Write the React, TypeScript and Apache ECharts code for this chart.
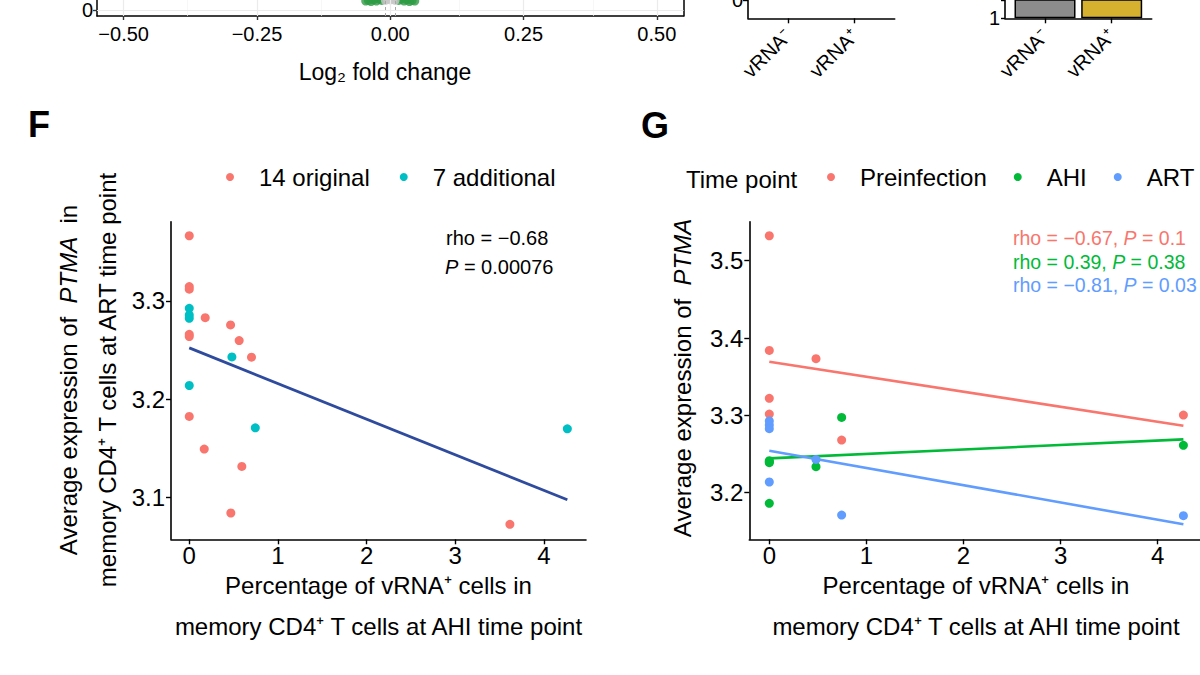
import React, { useEffect, useRef } from "react";
import * as echarts from "echarts";

const FONT = "'Liberation Sans', Arial, Helvetica, sans-serif";

// ---- Top-left remnant: volcano plot (only the bottom strip is visible)
const volcanoTicks = [-0.5, -0.25, 0, 0.25, 0.5];
const volcanoMinorTicks = [-0.375, -0.125, 0.125, 0.375];
const volcanoCutoffs = [-0.01, 0.01];
const volcanoSigX = [-0.046, -0.041, -0.036, -0.031, -0.026, -0.021, -0.016, 0.016, 0.021, 0.026, 0.031, 0.036, 0.041, 0.046];
const volcanoSigY = [0.75, 0.8, 0.7, 0.85, 0.75, 0.9, 0.8, 0.8, 0.9, 0.75, 0.85, 0.7, 0.8, 0.75];
const volcanoNsX = [-0.009, -0.005, 0, 0.005, 0.009];
const volcanoNsY = [0.8, 0.9, 0.85, 0.9, 0.8];

// ---- Top-middle remnants: two small vRNA panels
const vrnaLabels = ["vRNA\u207B", "vRNA\u207A"];
const vrnaPositions = [1, 2];
const vrnaFoldChange = [40, 60];
const vrnaColors = ["#8C8C8C", "#D6B12F"];

// ---- Panel F
const fOriginalX = [0, 0, 0, 0, 0, 0, 0.18, 0.466, 0.563, 0.702, 0.169, 0.593, 0.469, 3.617];
const fOriginalY = [3.3664, 3.3146, 3.312, 3.2637, 3.266, 3.1824, 3.283, 3.2756, 3.2597, 3.2427, 3.1492, 3.1315, 3.0841, 3.0725];
const fAdditionalX = [0, 0, 0, 0.481, 0, 0.745, 4.265];
const fAdditionalY = [3.2925, 3.2858, 3.2824, 3.243, 3.2139, 3.1708, 3.1698];
const fFitX = [0, 4.265];
const fFitY = [3.2522, 3.0975];
const fXTicks = [0, 1, 2, 3, 4];
const fYTicks = [3.1, 3.2, 3.3];

// ---- Panel G
const gPreX = [0, 0, 0, 0, 0.481, 0.745, 4.265];
const gPreY = [3.5323, 3.384, 3.322, 3.3017, 3.3733, 3.2681, 3.3004];
const gAhiX = [0.745, 0, 0, 0.481, 0, 4.265, 0];
const gAhiY = [3.2974, 3.2414, 3.2388, 3.2336, 3.1862, 3.2612, 3.24];
const gArtX = [0, 0, 0, 0, 0.481, 0.745, 4.265];
const gArtY = [3.2927, 3.2875, 3.2828, 3.2138, 3.243, 3.1711, 3.1703];
const gFitX = [0, 4.265];
const gPreFitY = [3.3694, 3.2866];
const gAhiFitY = [3.2444, 3.269];
const gArtFitY = [3.2543, 3.1591];
const gXTicks = [0, 1, 2, 3, 4];
const gYTicks = [3.2, 3.3, 3.4, 3.5];

const RED = "#F8766D";
const CYAN = "#00BFC4";
const GREEN = "#00BA38";
const BLUE = "#619CFF";

const zip = (xs: number[], ys: number[]) => xs.map((x, i) => [x, ys[i]]);
const minus = (v: number, d: number) => (v < 0 ? "\u2212" : "") + Math.abs(v).toFixed(d);

function valueAxis(gridIndex: number, min: number, max: number, ticks: number[] | null, fmt: (v: number) => string, o: any = {}) {
  const tick: any = { show: o.tickShow !== false, length: o.tickLen || 5, lineStyle: { color: o.tickColor || "#000", width: 1.4 } };
  const label: any = {
    show: o.labelShow !== false,
    formatter: fmt,
    color: "#000",
    fontFamily: FONT,
    fontSize: o.fontSize || 24,
    margin: o.margin ?? 6,
    rotate: o.rotate || 0,
  };
  if (ticks) {
    tick.customValues = ticks;
    label.customValues = ticks;
  }
  return {
    type: o.type || "value",
    gridIndex,
    min,
    max,
    position: o.position,
    axisLine: { show: o.line !== false, onZero: false, lineStyle: { color: o.lineColor || "#000", width: o.lineWidth || 1.6 } },
    axisTick: tick,
    axisLabel: label,
    splitLine: { show: false },
  };
}

function txt(x: number, y: number, text: string, o: any = {}) {
  const size = o.size || 24;
  return {
    type: "text",
    x,
    y,
    rotation: o.rot || 0,
    silent: true,
    style: {
      text,
      fill: o.color || "#000",
      fontSize: size,
      fontFamily: FONT,
      fontWeight: o.weight || "normal",
      align: o.align || "center",
      verticalAlign: "middle",
      textAlign: o.align || "center",
      textVerticalAlign: "middle",
      rich: {
        i: { fontStyle: "italic", fontSize: size, fontFamily: FONT },
      },
    },
  };
}

function buildOption(): any {
  const legendText = { fontSize: 24, fontFamily: FONT, color: "#000", rich: { s: { width: 20 } } };
  const g = (left: number, top: number, width: number, height: number) => ({ left, top, width, height, outerBoundsMode: "none" });
  return {
    animation: false,
    backgroundColor: "#fff",
    grid: [
      g(97, 0, 586.5, 16),
      g(748, 0, 146.7, 18.3),
      g(1005, 0, 146.7, 18.3),
      g(171, 221.7, 415, 317.6),
      g(749.3, 221.7, 450.7, 317.6),
    ],
    xAxis: [
      valueAxis(0, -0.55, 0.55, volcanoTicks, (v) => minus(v, 2), { tickLen: 4, tickColor: "#333", fontSize: 20, margin: 8, lineWidth: 1.5 }),
      valueAxis(1, 0.4, 2.6, vrnaPositions, (v) => vrnaLabels[Math.round(v) - 1], { fontSize: 20, rotate: 45, margin: 14 }),
      valueAxis(2, 0.4, 2.6, vrnaPositions, (v) => vrnaLabels[Math.round(v) - 1], { fontSize: 20, rotate: 45, margin: 14 }),
      valueAxis(3, -0.206, 4.4755, fXTicks, (v) => String(v), { margin: 4 }),
      valueAxis(4, -0.206, 4.436, gXTicks, (v) => String(v), { margin: 4 }),
    ],
    yAxis: [
      valueAxis(0, -0.5, 0.8333, [0], () => "0", { tickLen: 4, tickColor: "#333", fontSize: 20, margin: 4, lineWidth: 1.5 }),
      valueAxis(1, -1, 0, [0], () => "0", { fontSize: 20, margin: 5 }),
      {
        ...valueAxis(2, 1, 10, null, (v) => (Math.abs(v - 1) < 1e-9 ? "1" : ""), { fontSize: 20, margin: 5, tickLen: 4 }),
        type: "log",
        logBase: 10,
      },
      valueAxis(3, 3.0573, 3.3807, fYTicks, (v) => v.toFixed(1), { margin: 6 }),
      valueAxis(4, 3.1397, 3.5505, gYTicks, (v) => v.toFixed(1), { margin: 6 }),
      // right border of the volcano panel box
      valueAxis(0, -0.5, 0.8333, [0], () => "", { position: "right", tickShow: false, labelShow: false, lineWidth: 1.5 }),
    ],
    legend: [
      {
        data: ["14 original", "7 additional"],
        left: 226,
        top: 165,
        width: 400,
        padding: 0,
        icon: "circle",
        itemWidth: 8,
        itemHeight: 8,
        itemGap: 30,
        formatter: (n: string) => "{s|}" + n,
        textStyle: legendText,
      },
      {
        data: ["Preinfection", "AHI", "ART"],
        left: 827,
        top: 165,
        width: 400,
        padding: 0,
        icon: "circle",
        itemWidth: 8,
        itemHeight: 8,
        itemGap: 27,
        formatter: (n: string) => "{s|}" + n,
        textStyle: legendText,
      },
    ],
    graphic: [
      txt(385, 72, "Log\u2082 fold change", { size: 23 }),
      txt(39, 124, "F", { size: 36, weight: "bold" }),
      txt(655, 125, "G", { size: 36, weight: "bold" }),
      txt(68, 380, "Average expression of  {i|PTMA}  in", { rot: Math.PI / 2 }),
      txt(107, 380, "memory CD4\u207A T cells at ART time point", { rot: Math.PI / 2 }),
      txt(378.5, 585, "Percentage of vRNA\u207A cells in"),
      txt(378.5, 626, "memory CD4\u207A T cells at AHI time point"),
      txt(446, 238, "rho = \u22120.68", { size: 20, align: "left" }),
      txt(445, 267, "{i|P} = 0.00076", { size: 20, align: "left" }),
      txt(686, 179, "Time point", { align: "left" }),
      txt(682, 378, "Average expression of  {i|PTMA}", { rot: Math.PI / 2 }),
      txt(976, 585, "Percentage of vRNA\u207A cells in"),
      txt(976, 626, "memory CD4\u207A T cells at AHI time point"),
      txt(1013, 238, "rho = \u22120.67, {i|P} = 0.1", { size: 19.5, align: "left", color: RED }),
      txt(1013, 261.5, "rho = 0.39, {i|P} = 0.38", { size: 19.5, align: "left", color: GREEN }),
      txt(1013, 285, "rho = \u22120.81, {i|P} = 0.03", { size: 19.5, align: "left", color: BLUE }),
    ],
    series: [
      {
        type: "scatter",
        name: "volcano grid",
        xAxisIndex: 0,
        yAxisIndex: 0,
        data: [],
        z: 1,
        markLine: {
          silent: true,
          symbol: "none",
          label: { show: false },
          data: [
            ...volcanoTicks.map((v) => ({ xAxis: v, lineStyle: { color: "#EBEBEB", width: 1.2, type: "solid" } })),
            ...volcanoMinorTicks.map((v) => ({ xAxis: v, lineStyle: { color: "#F3F3F3", width: 0.7, type: "solid" } })),
            { yAxis: 0, lineStyle: { color: "#EBEBEB", width: 1.2, type: "solid" } },
            ...volcanoCutoffs.map((v) => ({ xAxis: v, lineStyle: { color: "#A8A8A8", width: 1, type: [3, 3] } })),
          ],
        },
      },
      {
        type: "scatter",
        name: "Significant",
        xAxisIndex: 0,
        yAxisIndex: 0,
        data: zip(volcanoSigX, volcanoSigY),
        symbolSize: 9,
        clip: false,
        itemStyle: { color: "#2E9B45" },
        z: 3,
      },
      {
        type: "scatter",
        name: "Not significant",
        xAxisIndex: 0,
        yAxisIndex: 0,
        data: zip(volcanoNsX, volcanoNsY),
        symbolSize: 9,
        clip: false,
        itemStyle: { color: "#C8C8C8" },
        z: 3,
      },
      {
        type: "bar",
        name: "vRNA fold change",
        xAxisIndex: 2,
        yAxisIndex: 2,
        barWidth: 61,
        data: vrnaPositions.map((x, i) => ({ value: [x, vrnaFoldChange[i]], itemStyle: { color: vrnaColors[i] } })),
        itemStyle: { borderColor: "#000", borderWidth: 1.5 },
      },
      {
        type: "scatter",
        name: "14 original",
        xAxisIndex: 3,
        yAxisIndex: 3,
        data: zip(fOriginalX, fOriginalY),
        symbolSize: 9,
        itemStyle: { color: RED, opacity: 1 },
        z: 3,
      },
      {
        type: "scatter",
        name: "7 additional",
        xAxisIndex: 3,
        yAxisIndex: 3,
        data: zip(fAdditionalX, fAdditionalY),
        symbolSize: 9,
        itemStyle: { color: CYAN, opacity: 1 },
        z: 3,
      },
      {
        type: "line",
        name: "F fit",
        xAxisIndex: 3,
        yAxisIndex: 3,
        data: zip(fFitX, fFitY),
        showSymbol: false,
        lineStyle: { color: "#2E4B9E", width: 2.8 },
        z: 2,
      },
      {
        type: "scatter",
        name: "Preinfection",
        xAxisIndex: 4,
        yAxisIndex: 4,
        data: zip(gPreX, gPreY),
        symbolSize: 9,
        itemStyle: { color: RED, opacity: 1 },
        z: 3,
      },
      {
        type: "scatter",
        name: "AHI",
        xAxisIndex: 4,
        yAxisIndex: 4,
        data: zip(gAhiX, gAhiY),
        symbolSize: 9,
        itemStyle: { color: GREEN, opacity: 1 },
        z: 3,
      },
      {
        type: "scatter",
        name: "ART",
        xAxisIndex: 4,
        yAxisIndex: 4,
        data: zip(gArtX, gArtY),
        symbolSize: 9,
        itemStyle: { color: BLUE, opacity: 1 },
        z: 3,
      },
      {
        type: "line",
        name: "Preinfection fit",
        xAxisIndex: 4,
        yAxisIndex: 4,
        data: zip(gFitX, gPreFitY),
        showSymbol: false,
        lineStyle: { color: RED, width: 2.6 },
        z: 2,
      },
      {
        type: "line",
        name: "AHI fit",
        xAxisIndex: 4,
        yAxisIndex: 4,
        data: zip(gFitX, gAhiFitY),
        showSymbol: false,
        lineStyle: { color: GREEN, width: 2.6 },
        z: 2,
      },
      {
        type: "line",
        name: "ART fit",
        xAxisIndex: 4,
        yAxisIndex: 4,
        data: zip(gFitX, gArtFitY),
        showSymbol: false,
        lineStyle: { color: BLUE, width: 2.6 },
        z: 2,
      },
    ],
  };
}

export default function App() {
  const ref = useRef<HTMLDivElement>(null);
  useEffect(() => {
    if (!ref.current) return;
    const chart = echarts.init(ref.current, undefined, { renderer: "svg" });
    chart.setOption(buildOption());
    return () => chart.dispose();
  }, []);
  return (
    <div
      ref={ref}
      style={{ position: "absolute", left: 0, top: 0, width: 1200, height: 675, background: "#fff" }}
    />
  );
}
